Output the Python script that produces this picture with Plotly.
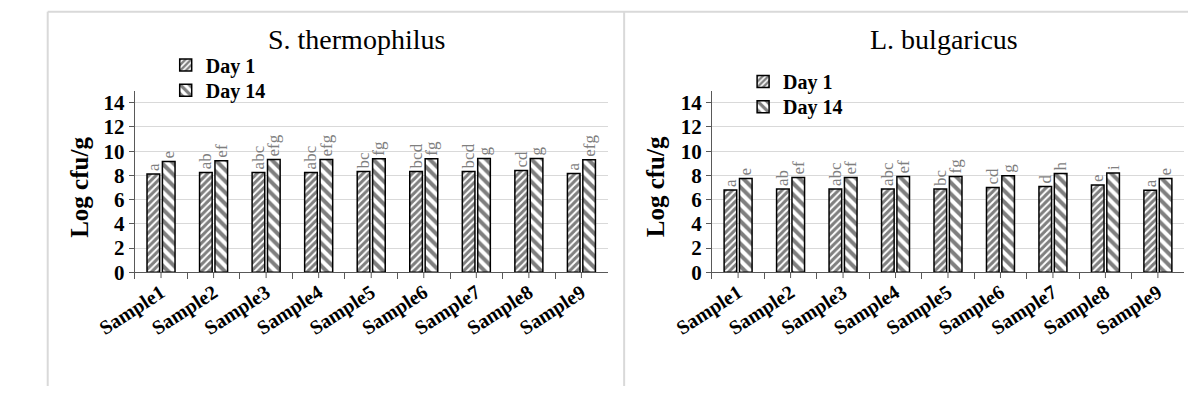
import plotly.graph_objects as go

# ---- data -------------------------------------------------------------
samples = ["Sample1", "Sample2", "Sample3", "Sample4", "Sample5",
           "Sample6", "Sample7", "Sample8", "Sample9"]

# S. thermophilus counts (log cfu/g)
st_day1 = [8.12, 8.25, 8.25, 8.25, 8.33, 8.33, 8.33, 8.41, 8.16]
st_day14 = [9.15, 9.22, 9.32, 9.32, 9.38, 9.38, 9.39, 9.39, 9.30]
st_day1_letters = ["a", "ab", "abc", "abc", "bc", "bcd", "bcd", "cd", "a"]
st_day14_letters = ["e", "ef", "efg", "efg", "fg", "fg", "g", "g", "efg"]

# L. bulgaricus counts (log cfu/g)
lb_day1 = [6.80, 6.87, 6.87, 6.87, 6.87, 7.00, 7.08, 7.21, 6.78]
lb_day14 = [7.75, 7.83, 7.83, 7.91, 7.91, 7.97, 8.15, 8.20, 7.75]
lb_day1_letters = ["a", "ab", "abc", "abc", "bc", "cd", "d", "e", "a"]
lb_day14_letters = ["e", "ef", "ef", "ef", "fg", "g", "h", "i", "e"]

panel_titles = ["S. thermophilus", "L. bulgaricus"]
series_names = ["Day 1", "Day 14"]
y_ticks = [0, 2, 4, 6, 8, 10, 12, 14]
y_title = "Log cfu/g"

# ---- geometry helpers (figure is 1188 x 398 with no margins) ----------
W, H = 1188, 398


def xp(px):
    return px / W


def yp(py):
    return 1 - py / H


SERIF = "Liberation Serif, Times New Roman, serif"
AXIS_COLOR = "#595959"
GRID_COLOR = "#d9d9d9"
FRAME_COLOR = "#d9d9d9"

patterns = [
    dict(shape="/", size=5, solidity=0.6, fgcolor="black", bgcolor="white"),
    dict(shape="\\", size=8, solidity=0.5, fgcolor="black", bgcolor="white"),
]

fig = go.Figure()

panels = [
    (st_day1, st_day14, st_day1_letters, st_day14_letters),
    (lb_day1, lb_day14, lb_day1_letters, lb_day14_letters),
]

# one single-entry legend per series and panel, so each entry can be placed freely
legend_ids = [["legend", "legend2"], ["legend3", "legend4"]]

for p, (d1, d14, l1, l14) in enumerate(panels):
    xa = "x" if p == 0 else "x2"
    ya = "y" if p == 0 else "y2"
    for s, (vals, letters) in enumerate([(d1, l1), (d14, l14)]):
        fig.add_trace(go.Bar(
            x=samples, y=vals, name=series_names[s],
            xaxis=xa, yaxis=ya, legend=legend_ids[p][s],
            marker=dict(color="white", pattern=patterns[s],
                        line=dict(color="black", width=1.5)),
            text=letters, textposition="outside", textangle=-90,
            constraintext="none", cliponaxis=False,
            textfont=dict(family=SERIF, size=17, color="#7f7f7f"),
            hoverinfo="x+y",
        ))

# plot-area positions in pixels
x_domains = [(99, 588), (695.7, 1184)]
y_top, y_bottom = 93.5, 280.7

axis_common_x = dict(
    type="category", categoryorder="array", categoryarray=samples,
    tickson="boundaries", ticks="outside", ticklen=6, tickcolor=AXIS_COLOR,
    showline=True, linecolor=AXIS_COLOR, linewidth=1,
    tickangle=-33, showgrid=False,
    tickfont=dict(family=SERIF, size=20, color="black", weight="bold"),
)
axis_common_y = dict(
    range=[0, 15], tickvals=y_ticks, ticks="outside", ticklen=5,
    tickcolor=AXIS_COLOR, showline=True, linecolor=AXIS_COLOR, linewidth=1,
    showgrid=True, gridcolor=GRID_COLOR, gridwidth=1, zeroline=False,
    tickfont=dict(family=SERIF, size=21, color="black", weight="bold"),
    domain=[yp(y_bottom), yp(y_top)],
)

fig.update_layout(
    xaxis=dict(axis_common_x, domain=[xp(x_domains[0][0]), xp(x_domains[0][1])], anchor="y"),
    yaxis=dict(axis_common_y, anchor="x"),
    xaxis2=dict(axis_common_x, domain=[xp(x_domains[1][0]), xp(x_domains[1][1])], anchor="y2"),
    yaxis2=dict(axis_common_y, anchor="x2"),
)

# centre ticks under each category (in addition to boundary ticks)
shapes = []
for xa, ya in [("x", "y"), ("x2", "y2")]:
    for i in range(len(samples)):
        shapes.append(dict(type="line", xref=xa, yref=f"{ya} domain",
                           x0=i, x1=i, y0=0, y1=-6 / (y_bottom - y_top),
                           line=dict(color=AXIS_COLOR, width=1)))

# panel frames
shapes += [
    dict(type="line", xref="paper", yref="paper", x0=xp(9), x1=xp(9),
         y0=yp(12), y1=0, line=dict(color=FRAME_COLOR, width=2)),
    dict(type="line", xref="paper", yref="paper", x0=xp(9), x1=1,
         y0=yp(12), y1=yp(12), line=dict(color=FRAME_COLOR, width=2)),
    dict(type="line", xref="paper", yref="paper", x0=xp(605), x1=xp(605),
         y0=yp(12), y1=0, line=dict(color=FRAME_COLOR, width=2)),
]

annotations = []
for cx, t in zip([328, 936], panel_titles):
    annotations.append(dict(
        text=t, xref="paper", yref="paper", x=xp(cx), y=yp(41),
        xanchor="center", yanchor="middle", showarrow=False,
        font=dict(family=SERIF, size=28, color="black")))
for cx in [42, 637]:
    annotations.append(dict(
        text=y_title, xref="paper", yref="paper", x=xp(cx), y=yp(193),
        xanchor="center", yanchor="middle", showarrow=False, textangle=-90,
        font=dict(family=SERIF, size=25, color="black", weight="bold")))

legend_common = dict(
    bgcolor="rgba(0,0,0,0)", borderwidth=0, itemwidth=30,
    font=dict(family=SERIF, size=20, color="black", weight="bold"),
    xanchor="left", yanchor="middle",
    itemclick=False, itemdoubleclick=False,
)

fig.update_layout(
    width=W, height=H,
    margin=dict(l=0, r=0, t=0, b=0),
    paper_bgcolor="white", plot_bgcolor="white",
    barmode="group", bargap=0.414, bargroupgap=0.18,
    showlegend=True,
    legend=dict(legend_common, x=xp(131), y=yp(67)),
    legend2=dict(legend_common, x=xp(131), y=yp(93)),
    legend3=dict(legend_common, x=xp(728), y=yp(84)),
    legend4=dict(legend_common, x=xp(728), y=yp(110)),
    shapes=shapes, annotations=annotations,
)

fig.write_html("out.html")
